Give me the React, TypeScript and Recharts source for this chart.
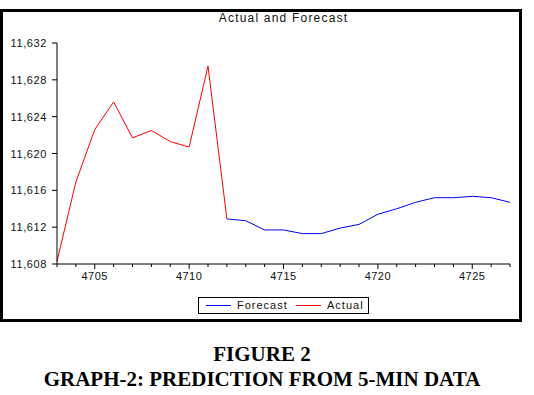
import React from "react"
import { LineChart, Line, XAxis, YAxis } from "recharts"

// observation index on the x axis
const periods = [
  4703, 4704, 4705, 4706, 4707, 4708, 4709, 4710, 4711, 4712, 4713, 4714, 4715,
  4716, 4717, 4718, 4719, 4720, 4721, 4722, 4723, 4724, 4725, 4726, 4727,
]
const actual: (number | null)[] = [
  11608.3, 11616.9, 11622.6, 11625.6, 11621.7, 11622.5, 11621.3, 11620.7, 11629.5, 11612.9,
  null, null, null, null, null, null, null, null, null, null, null, null, null, null, null,
]
const forecast: (number | null)[] = [
  null, null, null, null, null, null, null, null, null,
  11612.9, 11612.7, 11611.7, 11611.7, 11611.3, 11611.3, 11611.9, 11612.3, 11613.4, 11614.0,
  11614.7, 11615.2, 11615.2, 11615.35, 11615.2, 11614.7,
]
const yTicks = [11608, 11612, 11616, 11620, 11624, 11628, 11632]

const data = periods.map((t, i) => ({ t, actual: actual[i], forecast: forecast[i] }))

const sans = "'Liberation Sans', Arial, sans-serif"
const serif = "'Liberation Serif', 'Times New Roman', serif"

const XTick = (props: any) => {
  const { x, y, payload } = props
  const major = payload.value % 5 === 0
  return (
    <g>
      <line x1={x} x2={x} y1={y} y2={y + (major ? 5 : 3)} stroke="#000" />
      {major && (
        <text x={x} y={y + 16} textAnchor="middle" fontSize={11} fontFamily={sans} fill="#111" letterSpacing={0.5}>
          {payload.value}
        </text>
      )}
    </g>
  )
}

const YTick = (props: any) => {
  const { x, y, payload } = props
  return (
    <text x={x} y={y} dy={4} textAnchor="end" fontSize={11} fontFamily={sans} fill="#111" letterSpacing={0.6}>
      {payload.value.toLocaleString("en-US")}
    </text>
  )
}

export default function App() {
  return (
    <div style={{ position: "absolute", left: 0, top: 0, width: 534, height: 395, background: "#fff" }}>
      <div
        style={{
          position: "absolute", left: 0, top: 9, width: 522, height: 313,
          border: "3px solid #000", boxSizing: "border-box",
        }}
      />
      <div
        style={{
          position: "absolute", left: 57, top: 10, width: 453, lineHeight: "16px",
          textAlign: "center", fontFamily: sans, fontSize: 12, letterSpacing: 1.2, color: "#111",
        }}
      >
        Actual and Forecast
      </div>
      <div style={{ position: "absolute", left: 0, top: 0 }}>
        <LineChart width={534} height={395} data={data} margin={{ top: 43, right: 24, bottom: 101, left: 0 }}>
          <XAxis
            dataKey="t"
            type="number"
            domain={[4703, 4727]}
            ticks={periods}
            interval={0}
            tickSize={0}
            tickMargin={0}
            height={30}
            tick={<XTick />}
            axisLine={{ stroke: "#000" }}
            tickLine={false}
          />
          <XAxis
            xAxisId="top"
            orientation="top"
            dataKey="t"
            type="number"
            domain={[4703, 4727]}
            height={0}
            tick={false}
            tickLine={false}
            axisLine={{ stroke: "#000" }}
          />
          <YAxis
            type="number"
            domain={[11608, 11632]}
            ticks={yTicks}
            interval={0}
            width={57}
            tickSize={5}
            tickMargin={5}
            tick={<YTick />}
            axisLine={{ stroke: "#000" }}
            tickLine={{ stroke: "#000" }}
          />
          <YAxis
            yAxisId="right"
            orientation="right"
            type="number"
            domain={[11608, 11632]}
            width={0}
            tick={false}
            tickLine={false}
            axisLine={{ stroke: "#999" }}
          />
          <Line type="linear" dataKey="forecast" stroke="#0000ff" strokeWidth={1} dot={false} isAnimationActive={false} />
          <Line type="linear" dataKey="actual" stroke="#ff0000" strokeWidth={1} dot={false} isAnimationActive={false} />
        </LineChart>
      </div>
      <div
        style={{
          position: "absolute", left: 198, top: 297, width: 171, height: 17,
          border: "1px solid #000", boxSizing: "border-box", fontFamily: sans, fontSize: 11,
          letterSpacing: 1, color: "#111",
        }}
      >
        <div style={{ position: "absolute", left: 7, top: 7, width: 25, height: 1, background: "#0000ff" }} />
        <div style={{ position: "absolute", left: 38, top: 1, lineHeight: "13px" }}>Forecast</div>
        <div style={{ position: "absolute", left: 97, top: 7, width: 25, height: 1, background: "#ff0000" }} />
        <div style={{ position: "absolute", left: 128, top: 1, lineHeight: "13px" }}>Actual</div>
      </div>
      <div
        style={{
          position: "absolute", left: 0, top: 342, width: 524, textAlign: "center",
          fontFamily: serif, fontWeight: "bold", fontSize: 21, lineHeight: "24px", color: "#000",
        }}
      >
        FIGURE 2
      </div>
      <div
        style={{
          position: "absolute", left: 0, top: 367, width: 524, textAlign: "center",
          fontFamily: serif, fontWeight: "bold", fontSize: 21, lineHeight: "24px", color: "#000",
        }}
      >
        GRAPH-2: PREDICTION FROM 5-MIN DATA
      </div>
    </div>
  )
}
